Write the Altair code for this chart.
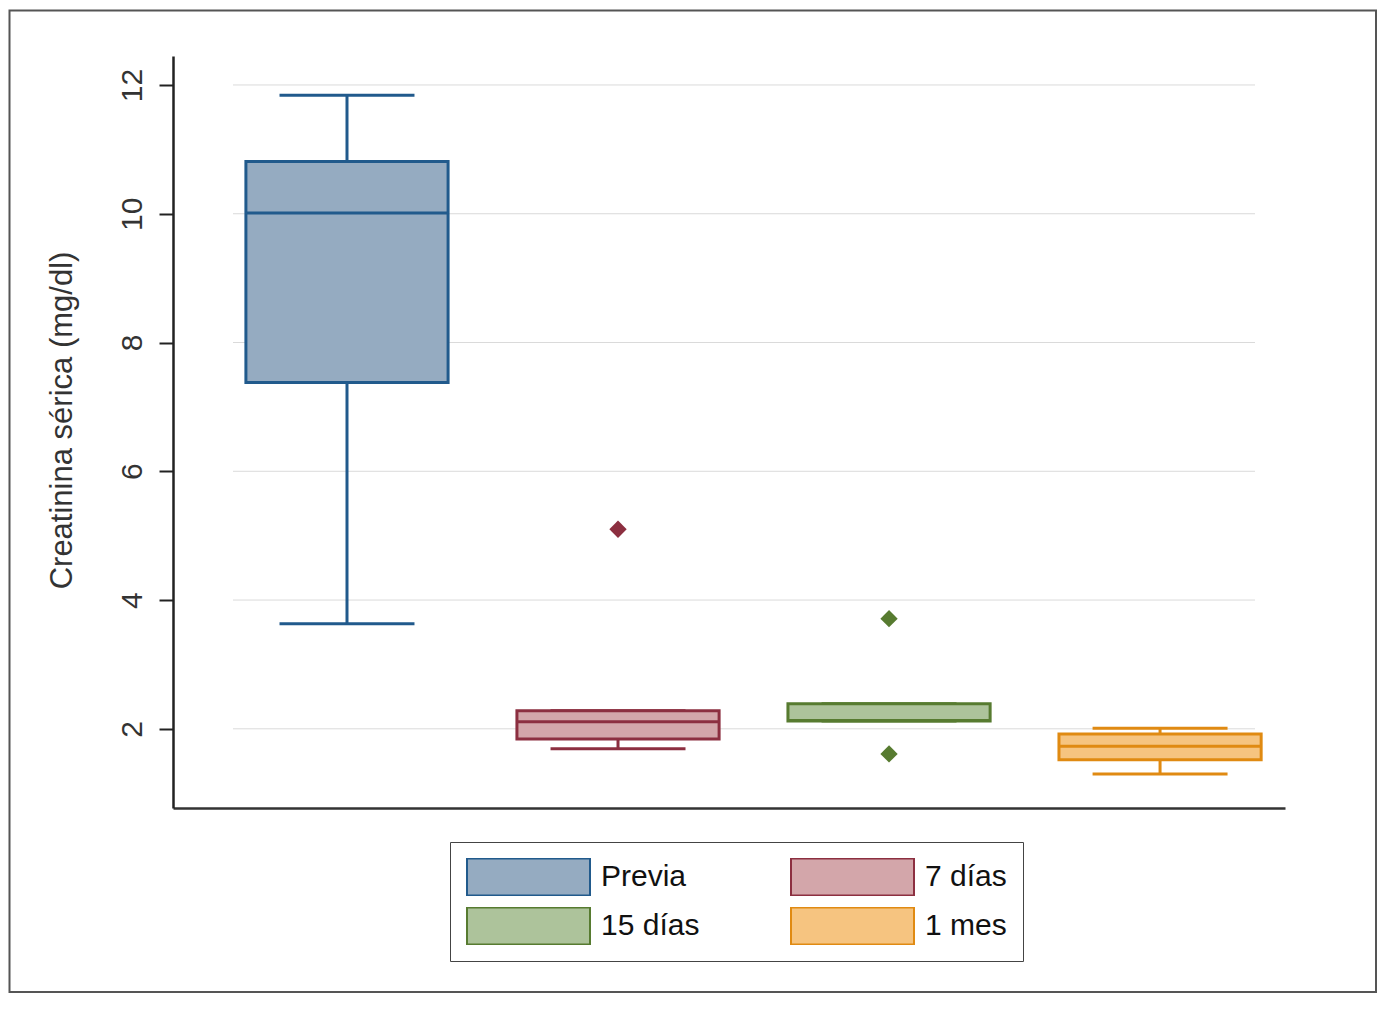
import altair as alt
import pandas as pd

# ---- data ----
groups = ["Previa", "7 días", "15 días", "1 mes"]
q1 = [7.38, 1.84, 2.12, 1.52]
medians = [10.01, 2.11, 2.13, 1.73]
q3 = [10.81, 2.28, 2.39, 1.92]
whisker_low = [3.63, 1.69, 2.12, 1.30]
whisker_high = [11.84, 2.28, 2.39, 2.01]
outlier_groups = ["7 días", "15 días", "15 días"]
outlier_values = [5.10, 3.71, 1.61]
y_ticks = [2, 4, 6, 8, 10, 12]

# ---- styles ----
fill_colors = ["#95abc1", "#d3a6aa", "#adc39b", "#f6c480"]
stroke_colors = ["#215a8c", "#8c2f40", "#577b30", "#e08a12"]
FONT = "Liberation Sans"
W, H = 1112, 752
BOX_HALF = 0.373
CAP_HALF = 0.249

df = pd.DataFrame({
    "grupo": groups, "q1": q1, "med": medians, "q3": q3,
    "lo": whisker_low, "hi": whisker_high, "dark": stroke_colors,
})
df["idx"] = list(range(1, len(groups) + 1))
df["xl"] = df["idx"] - BOX_HALF
df["xr"] = df["idx"] + BOX_HALF
df["cl"] = df["idx"] - CAP_HALF
df["cr"] = df["idx"] + CAP_HALF

out_df = pd.DataFrame({"grupo": outlier_groups, "valor": outlier_values})
out_df["idx"] = [groups.index(g) + 1 for g in outlier_groups]
out_df["dark"] = [stroke_colors[groups.index(g)] for g in outlier_groups]

xs = alt.Scale(domain=[0.358, 4.461], nice=False, zero=False)
ys = alt.Scale(domain=[0.77, 12.45], nice=False, zero=False)

xaxis = alt.Axis(labels=False, ticks=False, grid=False, title="",
                 domainColor="#333333", domainWidth=2.5)
yaxis = alt.Axis(values=y_ticks, format="d", grid=False,
                 labelAngle=270, labelAlign="center", labelBaseline="bottom",
                 labelFontSize=30, labelPadding=12, labelColor="#333333",
                 tickSize=14, tickWidth=2, tickColor="#222222",
                 domainColor="#222222", domainWidth=2.5,
                 title="Creatinina sérica (mg/dl)", titleFontSize=31,
                 titleFontWeight="normal", titleColor="#333333",
                 titleAngle=270, titleAlign="center", titleBaseline="alphabetic",
                 titleX=-102, titleY=364)


def X(field):
    return alt.X(f"{field}:Q", scale=xs, axis=xaxis)


def Y(field):
    return alt.Y(f"{field}:Q", scale=ys, axis=yaxis)


frame = alt.Chart(pd.DataFrame({"a": [0]})).mark_rect(
    fillOpacity=0, stroke="#555555", strokeWidth=2
).encode(x=alt.value(-163.5), x2=alt.value(1203), y=alt.value(-45.5), y2=alt.value(936))

grid = alt.Chart(pd.DataFrame({"v": y_ticks})).mark_rule(
    color="#dadada", strokeWidth=1
).encode(y=Y("v"), x=alt.value(60), x2=alt.value(1082))

base = alt.Chart(df)
dark = alt.Color("dark:N", scale=None)

whisk_lo = base.mark_rule(strokeWidth=3).encode(x=X("idx"), y=Y("lo"), y2="q1:Q", color=dark)
whisk_hi = base.mark_rule(strokeWidth=3).encode(x=X("idx"), y=Y("q3"), y2="hi:Q", color=dark)
cap_lo = base.mark_rule(strokeWidth=3).encode(x=X("cl"), x2="cr:Q", y=Y("lo"), color=dark)
cap_hi = base.mark_rule(strokeWidth=3).encode(x=X("cl"), x2="cr:Q", y=Y("hi"), color=dark)

leg = alt.Legend(
    title="", orient="none", legendX=277, legendY=786, columns=2, direction="horizontal",
    symbolType="M-1,-0.3H1V0.3H-1Z", symbolSize=15129, symbolStrokeWidth=2,
    symbolOpacity=1, clipHeight=38,
    labelFontSize=30, labelFont=FONT, labelColor="#111111", labelOffset=10,
    columnPadding=90, rowPadding=11, padding=16, strokeColor="#444444",
)

boxes = base.mark_rect(strokeWidth=3).encode(
    x=X("xl"), x2="xr:Q", y=Y("q1"), y2="q3:Q",
    fill=alt.Fill("grupo:N", scale=alt.Scale(domain=groups, range=fill_colors), legend=leg),
    stroke=alt.Stroke("grupo:N", scale=alt.Scale(domain=groups, range=stroke_colors), legend=leg),
)

med = base.mark_rule(strokeWidth=3).encode(x=X("xl"), x2="xr:Q", y=Y("med"), color=dark)

outliers = alt.Chart(out_df).mark_point(shape="diamond", filled=True, size=300, opacity=1).encode(
    x=X("idx"), y=Y("valor"), color=dark
)

chart = alt.layer(
    frame, grid, whisk_lo, whisk_hi, cap_lo, cap_hi, boxes, med, outliers
).properties(
    width=W, height=H,
    autosize=alt.AutoSizeParams(type="none"),
    padding={"left": 165, "top": 48, "right": 100, "bottom": 195},
).configure(font=FONT).configure_view(stroke="transparent")

chart.save("out.html", embed_options={"renderer": "svg", "actions": False})
